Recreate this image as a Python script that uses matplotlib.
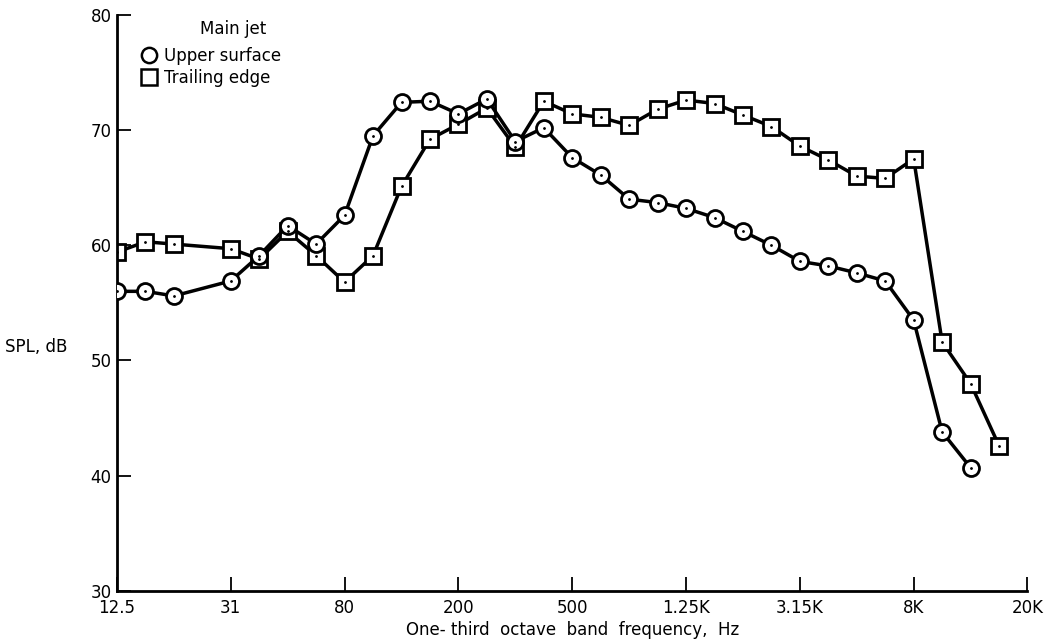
import matplotlib
matplotlib.use("Agg")
import matplotlib.pyplot as plt

# one-third octave band centre frequencies, Hz
bands = [12.5, 16, 20, 25, 31.5, 40, 50, 63, 80, 100, 125, 160, 200, 250, 315,
         400, 500, 630, 800, 1000, 1250, 1600, 2000, 2500, 3150, 4000, 5000,
         6300, 8000, 10000, 12500, 16000, 20000]

tick_bands = [12.5, 31.5, 80, 200, 500, 1250, 3150, 8000, 20000]
tick_labels = ["12.5", "31", "80", "200", "500", "1.25K", "3.15K", "8K", "20K"]

# upper surface (circles)
upper_freq = [12.5, 16, 20, 31.5, 40, 50, 63, 80, 100, 125, 160, 200, 250, 315,
              400, 500, 630, 800, 1000, 1250, 1600, 2000, 2500, 3150, 4000,
              5000, 6300, 8000, 10000, 12500]
upper_spl = [56.0, 56.0, 55.6, 56.9, 59.1, 61.7, 60.1, 62.6, 69.5, 72.4, 72.5,
             71.4, 72.7, 69.0, 70.2, 67.6, 66.1, 64.0, 63.7, 63.2, 62.4, 61.2,
             60.0, 58.6, 58.2, 57.6, 56.9, 53.5, 43.8, 40.7]

# trailing edge (squares)
trail_freq = [12.5, 16, 20, 31.5, 40, 50, 63, 80, 100, 125, 160, 200, 250, 315,
              400, 500, 630, 800, 1000, 1250, 1600, 2000, 2500, 3150, 4000,
              5000, 6300, 8000, 10000, 12500, 16000]
trail_spl = [59.4, 60.3, 60.1, 59.7, 58.8, 61.2, 59.1, 56.8, 59.1, 65.1, 69.2,
             70.5, 71.9, 68.5, 72.5, 71.4, 71.1, 70.4, 71.8, 72.6, 72.3, 71.3,
             70.3, 68.6, 67.4, 66.0, 65.8, 67.5, 51.6, 48.0, 42.6]

def band_index(freqs):
    return [bands.index(f) for f in freqs]

plt.rcParams["font.family"] = ["DejaVu Sans"]

fig = plt.figure(figsize=(10.49, 6.43), dpi=100)
ax = fig.add_axes([0.1115, 0.081, 0.868, 0.896])

ux = band_index(upper_freq)
tx = band_index(trail_freq)

ax.plot(ux, upper_spl, color="black", lw=2.5, marker="o", ms=11.5,
        mfc="white", mec="black", mew=2, zorder=3)
ax.plot(tx, trail_spl, color="black", lw=2.5, marker="s", ms=11.5,
        mfc="white", mec="black", mew=2, zorder=2)
# small centre dots inside the symbols
ax.plot(ux, upper_spl, ls="none", marker=".", ms=2, color="black", zorder=4)
ax.plot(tx, trail_spl, ls="none", marker=".", ms=2, color="black", zorder=4)

ax.set_xlim(0, len(bands) - 1)
ax.set_ylim(30, 80)
ax.set_xticks(band_index(tick_bands))
ax.set_xticklabels(tick_labels)
ax.set_yticks([30, 40, 50, 60, 70, 80])

for s in ["top", "right"]:
    ax.spines[s].set_visible(False)
for s in ["left", "bottom"]:
    ax.spines[s].set_linewidth(2)

ax.tick_params(direction="in", length=10, width=1.3, labelsize=12, pad=4)
ax.tick_params(axis="x", pad=6)

ax.set_xlabel("One- third  octave  band  frequency,  Hz", fontsize=12, labelpad=3)
fig.text(0.005, 0.46, "SPL, dB", fontsize=12, ha="left", va="center")

# legend
h1, = ax.plot([], [], ls="none", marker="o", ms=11, mfc="white", mec="black", mew=1.8)
h2, = ax.plot([], [], ls="none", marker="s", ms=11, mfc="white", mec="black", mew=1.8)
ax.legend([h1, h2], ["Upper surface", "Trailing edge"],
          loc="upper left", bbox_to_anchor=(0.01, 0.97), frameon=False,
          fontsize=12, handletextpad=0.4, handlelength=1.0, labelspacing=0.25)
ax.text(0.128, 0.975, "Main jet", transform=ax.transAxes, fontsize=12,
        ha="center", va="center")

fig.savefig("out.png", dpi=100)
